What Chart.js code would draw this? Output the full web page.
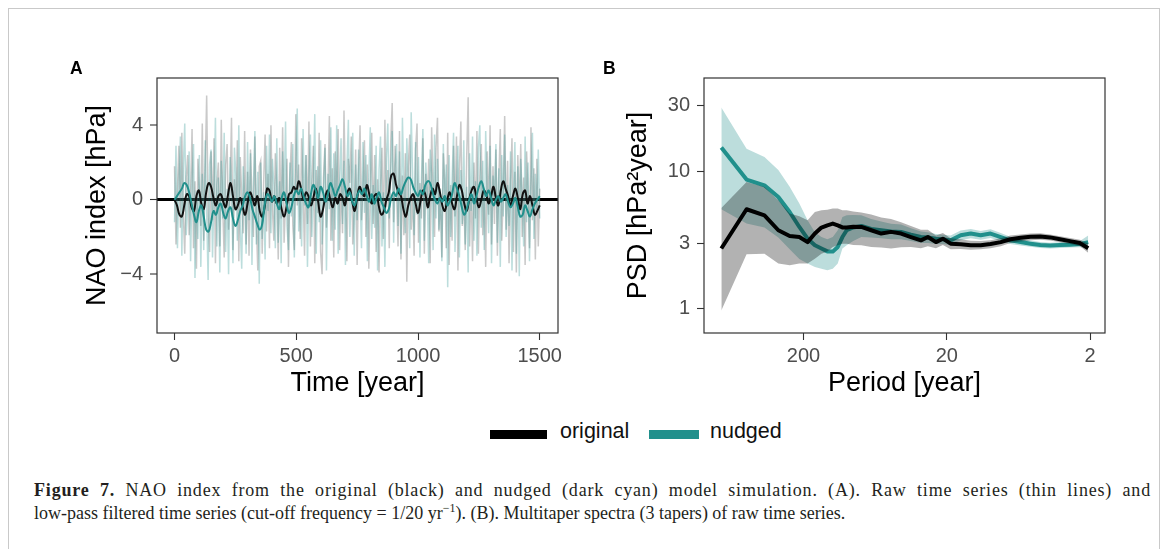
<!DOCTYPE html>
<html><head><meta charset="utf-8">
<script src="https://cdn.jsdelivr.net/npm/chart.js@4.4.1/dist/chart.umd.min.js"></script>
<style>
html,body{margin:0;padding:0;background:#fff;width:1167px;height:549px;overflow:hidden;position:relative;}
#frame{position:absolute;left:8px;top:8px;width:1152px;height:600px;border:1.5px solid #c9c9c9;border-bottom:none;box-sizing:border-box;}
canvas{position:absolute;top:0;}
#cA{left:0;} #cB{left:580px;}
.plab{position:absolute;font:bold 17.5px "Liberation Sans",Arial,sans-serif;line-height:1;color:#000;}
.lg{position:absolute;font:21.5px "Liberation Sans",Arial,sans-serif;line-height:1;color:#111;white-space:nowrap;}
.sw{position:absolute;height:9px;}
.cap{position:absolute;left:34px;font:18px "Liberation Serif","Times New Roman",serif;line-height:23px;color:#231f20;white-space:nowrap;}
.cap b{font-weight:bold;}
.cap sup{font-size:12px;line-height:0;vertical-align:7px;}
</style>
</head><body>
<div id="frame"></div>
<canvas id="cA" width="580" height="410"></canvas>
<canvas id="cB" width="587" height="410"></canvas>
<div class="plab" style="left:70px;top:59.5px;">A</div>
<div class="plab" style="left:603px;top:59.5px;">B</div>
<div class="sw" style="left:490px;top:429.5px;width:57px;background:#000;"></div>
<div class="lg" style="left:560px;top:421px;">original</div>
<div class="sw" style="left:649px;top:429.5px;width:50px;background:#21908C;"></div>
<div class="lg" style="left:710px;top:421px;">nudged</div>
<div class="cap" id="cap1" style="top:479px;"><b>Figure 7.</b> NAO index from the original (black) and nudged (dark cyan) model simulation. (A). Raw time series (thin lines) and</div>
<div class="cap" id="cap2" style="top:502px;">low-pass filtered time series (cut-off frequency = 1/20 yr<sup>−1</sup>). (B). Multitaper spectra (3 tapers) of raw time series.</div>
<script>
// ---------------- Panel A data ----------------
const RAW_STEP = 6;   // years between raw samples
const ORIG_RAW = [
 1.8,-2.4,0.6,2.9,-1.5,3.6,-0.8,-2.9,1.2,2.4,
 -1.9,0.3,3.8,-2.6,1.0,-3.7,2.2,0.5,-1.4,4.1,
 -2.2,1.7,5.6,-0.9,-2.8,2.6,-1.1,3.3,-3.4,0.8,
 2.0,-2.5,4.3,-0.4,-3.1,1.9,3.0,-1.6,0.4,4.4,
 -2.7,1.1,-0.6,3.2,-3.3,2.3,0.2,-1.8,3.7,-2.4,
 1.5,-3.0,2.7,0.1,-2.0,3.4,-1.2,-3.8,1.8,2.1,
 -2.9,0.9,3.5,-1.7,1.4,-2.6,4.0,-0.5,-2.2,2.5,
 0.7,-3.2,2.8,-1.0,3.9,-2.3,0.0,2.2,-3.6,1.3,
 3.1,-1.4,-2.7,4.6,-0.3,1.9,-2.1,3.3,0.6,-3.0,
 2.4,-1.3,4.2,-2.5,0.8,2.9,-3.4,1.6,-0.7,3.6,
 -2.8,-4.0,1.2,3.0,-1.5,0.4,4.5,-2.2,1.7,-3.1,
 2.6,-0.2,3.8,-2.7,1.0,-1.8,4.8,0.3,-3.3,2.2,
 0.9,3.4,-2.4,-0.6,2.7,-3.5,1.5,4.0,-1.1,0.6,
 3.2,-2.0,1.9,-3.7,0.5,3.6,-1.3,2.4,-2.8,1.1,
 -3.9,0.7,2.8,-2.1,4.3,-0.4,1.6,-2.6,3.1,5.2,
 -1.2,2.9,0.4,-2.5,3.7,-3.2,1.3,-1.9,2.5,-4.4,
 1.8,3.5,-1.6,0.2,-3.0,2.7,4.1,-2.3,0.9,-1.0,
 3.3,-2.9,1.4,-0.5,2.2,-3.4,3.9,0.6,-2.0,2.8,
 4.4,-1.7,0.3,-3.1,2.5,1.0,-2.6,3.6,-3.5,0.8,
 -2.2,2.9,-0.9,3.4,-3.8,1.6,4.2,-1.4,0.1,-2.7,
 2.3,5.5,-2.5,0.7,-3.3,2.0,-1.0,3.7,-2.9,1.2,
 3.0,-1.9,0.5,-3.6,2.6,-0.8,4.0,-2.4,1.8,-1.3,
 2.7,-3.0,1.1,3.8,-2.2,0.2,4.5,-1.6,2.1,-3.4,
 0.9,3.3,-2.8,1.5,-3.9,2.4,-0.7,3.0,-2.0,1.2,
 -3.5,2.6,0.4,-2.6,3.9,-1.1,1.7,-3.2,2.2,-2.5,
 0.6];
const NUDGED_RAW = [
 -1.2,2.9,-2.6,0.8,3.4,-3.0,1.7,4.1,-1.9,-0.4,
 2.6,-3.3,1.1,3.0,-4.2,0.5,-2.1,2.4,-3.6,1.4,
 -2.7,3.2,-0.8,-4.3,1.9,2.7,-3.1,0.3,4.4,-2.5,
 1.2,-3.9,2.1,-1.0,3.6,-2.8,0.6,-4.0,2.3,0.9,
 -3.4,2.8,1.3,-2.2,4.0,-1.5,-3.7,1.8,0.2,-2.9,
 3.1,-1.1,2.5,-3.5,0.7,3.7,-2.4,1.5,-4.5,2.0,
 -2.1,0.4,-3.2,2.9,-0.6,3.5,-1.8,2.2,0.8,-2.6,
 3.3,-2.3,1.0,-3.4,2.6,0.1,4.2,-1.4,-2.7,2.0,
 -0.9,3.0,-3.1,1.6,4.9,-1.7,0.5,-2.5,3.8,-0.3,
 2.4,-3.6,1.2,3.5,-2.0,0.7,4.6,-2.9,1.8,-1.2,
 3.2,-2.4,0.3,2.8,-3.8,1.4,-0.5,3.9,-2.2,2.5,
 -1.6,4.0,-2.9,0.9,3.3,-1.3,2.1,-3.5,1.7,4.3,
 -2.0,0.6,3.6,-3.0,1.9,-1.1,2.7,0.2,-2.6,3.1,
 -0.7,2.4,-3.3,1.3,3.9,-2.1,0.8,-1.5,2.9,-3.8,
 1.6,3.4,-2.5,0.4,-3.6,2.2,4.1,-1.0,1.5,3.7,
 -2.3,1.8,3.0,-1.4,2.6,-2.9,4.4,0.6,-1.8,3.3,
 0.9,-2.6,4.7,1.2,-1.9,3.1,-0.8,2.3,-3.1,1.0,
 3.8,-2.2,2.0,0.3,-3.4,2.7,1.4,-2.7,3.5,-1.0,
 2.2,-1.6,0.6,-3.3,3.0,-0.4,1.9,-4.7,2.4,-2.0,
 1.1,3.6,-2.8,0.5,2.9,-3.1,1.6,-1.3,3.2,-2.4,
 0.7,-3.9,2.5,-0.6,3.4,-2.2,1.0,-3.0,2.8,4.0,
 -1.5,2.1,-2.7,3.7,0.4,-1.8,2.9,-3.4,1.3,0.2,
 3.0,-2.3,1.7,-3.6,2.4,-0.9,3.5,-2.0,0.8,-1.4,
 2.6,-3.8,0.5,3.1,-2.9,1.8,-4.1,2.2,0.3,-2.5,
 3.4,-1.2,2.0,-3.3,0.9,3.6,-2.1,1.4,-0.6,2.7,
 -1.0];
const FILT_STEP = 10; // years between low-pass samples
const ORIG_FILT = [
 0.0,-0.3,-0.8,-0.9,-0.3,0.3,0.2,-0.4,-0.6,0.2,
 0.5,-0.2,-0.5,0.4,0.9,0.7,0.1,-0.3,0.2,0.3,
 -0.1,-0.4,0.3,0.9,0.2,-0.5,-0.3,0.1,-0.4,-0.8,
 -0.2,0.4,0.1,-0.3,0.2,-0.6,-0.9,-0.4,0.6,0.5,
 -0.1,0.2,-0.2,0.1,-0.5,-0.9,-0.4,0.3,0.4,0.7,
 0.5,1.0,0.6,0.0,0.4,0.2,-0.3,0.1,0.6,-0.1,
 -0.9,-0.5,0.2,0.5,0.0,-0.4,0.1,-0.2,0.3,0.1,
 -0.3,0.4,0.6,-0.1,-0.6,0.1,0.7,0.4,0.2,0.8,
 0.3,-0.2,0.2,0.3,-0.4,-0.8,-0.6,0.0,0.4,1.3,
 1.4,0.8,0.4,0.2,-0.5,-0.9,-0.3,0.1,0.3,-0.2,
 -0.7,-0.1,0.5,0.3,-0.4,0.2,0.6,0.3,0.9,0.4,
 -0.3,-0.6,0.0,0.4,-0.2,-0.5,0.2,0.8,0.5,-0.2,
 -0.6,0.0,0.5,0.7,0.1,-0.4,0.0,0.5,0.3,-0.2,
 0.2,0.7,0.1,-0.3,0.5,1.0,0.6,0.2,-0.3,0.2,
 0.6,0.1,-0.5,0.3,0.5,-0.2,0.2,-0.3,-0.8,-0.6,
 -0.3];
const NUDGED_FILT = [
 0.0,0.2,0.4,0.6,0.9,0.8,0.4,-0.2,-0.8,-1.2,
 -0.6,-0.3,-0.9,-1.6,-1.7,-1.2,-0.6,-0.8,-0.4,-0.2,
 -0.7,-1.0,-0.6,-0.4,-1.0,-1.4,-1.1,-0.6,-0.3,0.2,
 0.4,0.1,-0.5,-0.9,-1.3,-1.6,-1.3,-0.3,0.3,0.2,
 -0.1,0.2,-0.2,-0.5,0.1,0.4,-0.2,-0.7,-0.4,0.2,
 0.5,0.3,0.6,0.2,-0.2,-0.4,0.3,0.8,0.5,0.1,
 0.7,0.4,-0.1,0.3,0.9,0.6,0.2,0.5,0.8,1.1,
 0.7,0.2,0.4,-0.1,-0.3,0.2,0.5,0.3,0.6,0.2,
 -0.1,0.3,-0.2,0.1,0.4,-0.1,-0.4,-0.7,-0.5,0.1,
 0.4,0.2,0.6,0.3,0.7,1.0,1.2,1.1,0.7,0.4,
 0.2,0.5,0.3,0.8,1.0,0.9,0.4,0.0,-0.2,0.1,
 -0.1,0.2,-0.3,-0.1,0.3,0.9,0.6,0.2,-0.4,-0.8,
 -0.5,0.0,0.3,-0.2,0.2,0.7,1.0,0.6,0.2,0.5,
 0.1,-0.3,0.0,0.2,-0.1,0.1,0.3,-0.1,-0.4,-0.2,
 0.1,-0.4,-0.9,-0.8,-0.3,-0.6,-0.9,-0.5,-0.2,0.0,
 0.2];
const X_TICKS_A = [0, 500, 1000, 1500];
const Y_TICKS_A = [-4, 0, 4];

// ---------------- Panel B data ----------------
const PERIODS = [750,500,375,300,250,214,187.5,166.7,150,136.4,125,115.4,107.1,100,90,79,67.4,57.4,49,41.7,35.6,30.3,27.1,23.8,21.3,18.8,16,13.6,11.6,9.9,8.4,7.2,6.1,5.2,4.45,3.8,3.24,2.76,2.35,2.06];
const PSD_ORIG = [2.74,5.29,4.78,3.72,3.38,3.32,3.05,3.52,3.89,4.04,4.16,4.04,3.9,3.9,3.95,3.93,3.72,3.52,3.62,3.52,3.32,3.14,3.32,3.05,3.23,2.97,2.94,2.89,2.89,2.95,3.05,3.2,3.28,3.33,3.35,3.3,3.2,3.1,3.0,2.75];
const PSD_ORIG_LO = [0.97,2.49,2.51,2.13,2.07,2.13,2.13,2.31,2.51,2.6,2.81,2.89,2.97,2.97,2.9,2.89,2.81,2.78,2.74,2.8,2.81,2.75,2.85,2.75,2.9,2.7,2.72,2.68,2.7,2.75,2.85,3.0,3.08,3.14,3.17,3.13,3.04,2.95,2.85,2.55];
const PSD_ORIG_HI = [5.4,8.36,7.69,6.15,4.92,4.7,4.4,5.05,5.2,5.25,5.35,5.35,5.2,5.2,5.1,5.0,4.85,4.6,4.5,4.25,4.0,3.75,3.75,3.4,3.55,3.25,3.2,3.12,3.1,3.15,3.25,3.4,3.47,3.52,3.53,3.47,3.37,3.27,3.17,2.98];
const PSD_NUDGED = [14.9,8.7,7.9,6.5,5.05,3.93,3.23,2.89,2.74,2.61,2.6,2.81,3.32,3.72,3.9,4.0,3.8,3.72,3.65,3.62,3.45,3.32,3.3,3.23,3.2,3.14,3.42,3.52,3.42,3.52,3.32,3.14,3.05,2.97,2.9,2.88,2.9,2.92,2.95,3.05];
const PSD_NUDGED_LO = [5.3,4.16,3.9,3.3,2.7,2.3,2.13,2.01,1.95,1.9,1.95,2.13,2.74,2.89,3.1,3.32,3.3,3.25,3.2,3.2,3.1,3.0,3.0,2.95,2.95,2.9,3.15,3.25,3.17,3.27,3.1,2.95,2.88,2.82,2.76,2.74,2.76,2.78,2.8,2.75];
const PSD_NUDGED_HI = [29.1,14.6,12.7,10.2,7.7,5.82,4.4,3.6,3.32,3.2,3.32,3.72,4.65,4.78,4.8,4.78,4.5,4.3,4.15,4.1,3.85,3.65,3.6,3.5,3.45,3.4,3.7,3.8,3.68,3.78,3.55,3.34,3.22,3.13,3.05,3.02,3.04,3.06,3.1,3.4];
const X_TICKS_B = [200, 20, 2];
const Y_TICKS_B = [1, 3, 10, 30];

// ---------------- helpers ----------------
const CYAN = '#21908C';
const TICK_FONT = {family:'"Liberation Sans", Arial, sans-serif', size:20};
const TITLE_FONT = {family:'"Liberation Sans", Arial, sans-serif', size:27};
const series = (xs, ys) => ys.map((y, i) => ({x: xs[i], y}));
const rawYears = ORIG_RAW.map((_, i) => i * RAW_STEP);
const filtYears = ORIG_FILT.map((_, i) => i * FILT_STEP);
const setTicks = arr => scale => { scale.ticks = arr.map(v => ({value: v})); };

const framePlugin = {
  id: 'frame',
  afterDraw(chart) {
    const {ctx, chartArea: a} = chart;
    ctx.save();
    ctx.strokeStyle = '#333';
    ctx.lineWidth = 1.2;
    ctx.strokeRect(a.left, a.top, a.right - a.left, a.bottom - a.top);
    ctx.restore();
  }
};

Chart.defaults.font.family = '"Liberation Sans", Arial, sans-serif';

// ---------------- Panel A ----------------
new Chart(document.getElementById('cA'), {
  type: 'line',
  data: {
    datasets: [
      {label:'nudged (low-pass)', data: series(filtYears, NUDGED_FILT), borderColor: CYAN, borderWidth: 2, pointRadius: 0, tension: 0.4, order: 1},
      {label:'original (low-pass)', data: series(filtYears, ORIG_FILT), borderColor: '#111', borderWidth: 2, pointRadius: 0, tension: 0.4, order: 2},
      {label:'nudged (raw)', data: series(rawYears, NUDGED_RAW), borderColor: 'rgba(33,144,140,0.3)', borderWidth: 1.5, pointRadius: 0, tension: 0, order: 3},
      {label:'original (raw)', data: series(rawYears, ORIG_RAW), borderColor: 'rgba(100,100,100,0.35)', borderWidth: 1.5, pointRadius: 0, tension: 0, order: 4}
    ]
  },
  options: {
    responsive: false, animation: false, devicePixelRatio: 1,
    layout: {padding: {left: 70, top: 78, right: 22, bottom: 7}},
    plugins: {legend: {display: false}, tooltip: {enabled: false}},
    scales: {
      x: {
        type: 'linear', min: -72, max: 1575,
        afterBuildTicks: setTicks(X_TICKS_A),
        afterFit: s => { s.height = 70; },
        ticks: {color: '#4d4d4d', font: TICK_FONT, padding: 4, maxRotation: 0, autoSkip: false, callback: v => String(v)},
        grid: {drawOnChartArea: false, tickLength: 7, tickColor: '#333', tickWidth: 1.1},
        border: {display: false},
        title: {display: true, text: 'Time [year]', color: '#000', font: TITLE_FONT, padding: {top: 0, bottom: 3.5}}
      },
      y: {
        type: 'linear', min: -7.15, max: 6.54, z: 1,
        afterBuildTicks: setTicks(Y_TICKS_A),
        afterFit: s => { s.width = 87; },
        ticks: {color: '#4d4d4d', font: TICK_FONT, padding: 7, autoSkip: false, callback: v => v < 0 ? '\u2212' + Math.abs(v) : String(v)},
        grid: {
          drawOnChartArea: true, tickLength: 7, tickColor: '#333', tickWidth: 1.1,
          color: c => (c.tick && c.tick.value === 0) ? '#000' : 'rgba(0,0,0,0)',
          lineWidth: c => (c.tick && c.tick.value === 0) ? 3 : 0
        },
        border: {display: false},
        title: {display: true, text: 'NAO index [hPa]', color: '#000', font: TITLE_FONT, padding: {top: 11, bottom: 0}}
      }
    }
  },
  plugins: [framePlugin]
});

// ---------------- Panel B ----------------
new Chart(document.getElementById('cB'), {
  type: 'line',
  data: {
    datasets: [
      {label:'nudged lo', data: series(PERIODS, PSD_NUDGED_LO), borderWidth: 0, pointRadius: 0, fill: false, order: 60},
      {label:'nudged hi', data: series(PERIODS, PSD_NUDGED_HI), borderWidth: 0, pointRadius: 0, fill: '-1', backgroundColor: 'rgba(33,144,140,0.3)', order: 50},
      {label:'nudged', data: series(PERIODS, PSD_NUDGED), borderColor: CYAN, borderWidth: 4, pointRadius: 0, fill: false, borderJoinStyle: 'round', order: 40},
      {label:'original lo', data: series(PERIODS, PSD_ORIG_LO), borderWidth: 0, pointRadius: 0, fill: false, order: 30},
      {label:'original hi', data: series(PERIODS, PSD_ORIG_HI), borderWidth: 0, pointRadius: 0, fill: '-1', backgroundColor: 'rgba(0,0,0,0.3)', order: 20},
      {label:'original', data: series(PERIODS, PSD_ORIG), borderColor: '#000', borderWidth: 4, pointRadius: 0, fill: false, borderJoinStyle: 'round', order: 10}
    ]
  },
  options: {
    responsive: false, animation: false, devicePixelRatio: 1,
    layout: {padding: {left: 30, top: 78, right: 62, bottom: 7}},
    plugins: {legend: {display: false}, tooltip: {enabled: false}, filler: {propagate: false}},
    scales: {
      x: {
        type: 'logarithmic', reverse: true, min: 1.572, max: 991,
        afterBuildTicks: setTicks(X_TICKS_B),
        afterFit: s => { s.height = 70; },
        ticks: {color: '#4d4d4d', font: TICK_FONT, padding: 4, maxRotation: 0, autoSkip: false, callback: v => String(v)},
        grid: {drawOnChartArea: false, tickLength: 7, tickColor: '#333', tickWidth: 1.1},
        border: {display: false},
        title: {display: true, text: 'Period [year]', color: '#000', font: TITLE_FONT, padding: {top: 0, bottom: 3.5}}
      },
      y: {
        type: 'logarithmic', min: 0.664, max: 47.8,
        afterBuildTicks: setTicks(Y_TICKS_B),
        afterFit: s => { s.width = 94; },
        ticks: {color: '#4d4d4d', font: TICK_FONT, padding: 7, autoSkip: false, callback: v => String(v)},
        grid: {drawOnChartArea: false, tickLength: 7, tickColor: '#333', tickWidth: 1.1},
        border: {display: false},
        title: {display: true, text: 'PSD [hPa\u00B2year]', color: '#000', font: TITLE_FONT, padding: {top: 12, bottom: 0}}
      }
    }
  },
  plugins: [framePlugin]
});

// justify caption line 1 to the reference width: half of the extra room on
// letters, half on word gaps; line 2 keeps its natural width
const cap1 = document.getElementById('cap1');
const w1 = cap1.getBoundingClientRect().width;
const txt = cap1.textContent;
const extra = 1117 - w1;
const nSpaces = (txt.match(/ /g) || []).length;
cap1.style.letterSpacing = (extra * 0.5 / txt.length) + 'px';
cap1.style.wordSpacing = (extra * 0.5 / nSpaces) + 'px';
</script>
</body></html>
